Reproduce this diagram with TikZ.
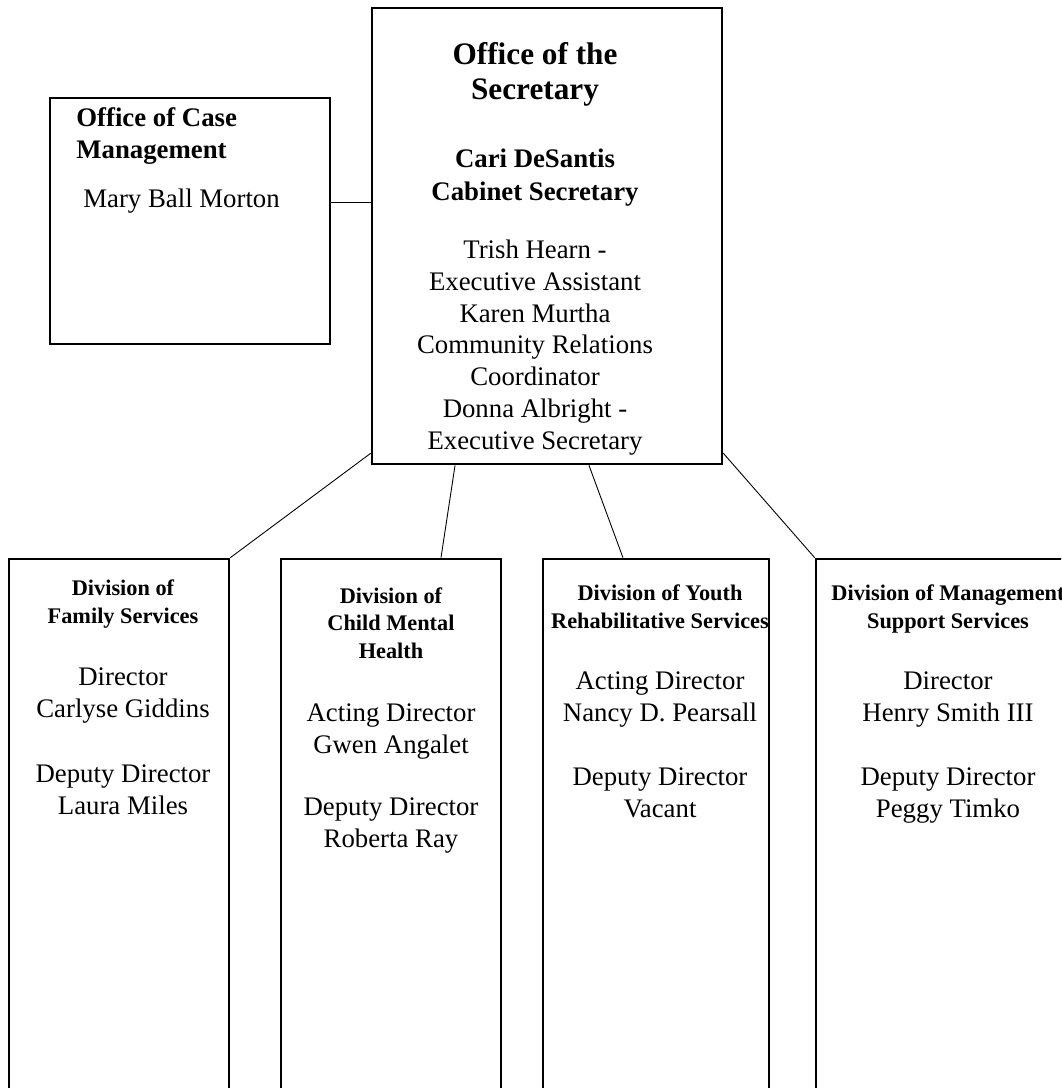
\documentclass[tikz,border=0pt]{standalone}
\usepackage{fontspec}
\setmainfont{Liberation Serif}
\pgfdeclarelayer{bg}
\pgfsetlayers{bg,main}
\tikzset{
    orgbox/.style={rectangle, draw, line width=1.2pt, inner sep=0mm},
    body/.style={align=center, inner sep=0mm, anchor=base, font=\fontsize{12}{14.2}\selectfont},
    bighead/.style={body, font=\bfseries\fontsize{14}{15.7}\selectfont},
    bodyhead/.style={body, font=\bfseries\fontsize{12}{14.5}\selectfont},
    divhead/.style={body, font=\bfseries\fontsize{10}{12.1}\selectfont}
}

\begin{document}
\begin{tikzpicture}[x=0.448pt, y=-0.448pt, line width=1.2pt]
    \useasboundingbox (0,0) rectangle (1061,1088);
    \clip (0,0) rectangle (1061,1088);

    \node (sec) [orgbox, minimum width=350*0.448pt, minimum height=456*0.448pt] at (547, 236) {};
    \node (case) [orgbox, minimum width=280*0.448pt, minimum height=246*0.448pt] at (190, 221) {};
    \node (fam) [orgbox, minimum width=220*0.448pt, minimum height=551*0.448pt] at (119, 834.5) {};
    \node (cmh) [orgbox, minimum width=220*0.448pt, minimum height=551*0.448pt] at (391, 834.5) {};
    \node (yrs) [orgbox, minimum width=226*0.448pt, minimum height=551*0.448pt] at (656, 834.5) {};
    \node (mss) [orgbox, minimum width=266*0.448pt, minimum height=551*0.448pt] at (949, 834.5) {};

    % texts sit on the baseline of their last line
    \node (sech) [bighead] at (535, 100) {Office of the\\Secretary};
    \node (secn) [bodyhead] at (535, 200) {Cari DeSantis\\Cabinet Secretary};
    \node (secs) [body] at (535, 449) {Trish Hearn -\\Executive Assistant\\Karen Murtha\\Community Relations\\Coordinator\\Donna Albright -\\Executive Secretary};

    \node (caseh) [bodyhead, align=left, anchor=base west] at (75, 159) {Office of Case\\Management};
    \node (casen) [body, anchor=base west] at (82, 207) {Mary Ball Morton};

    \node (famh) [divhead] at (123, 623) {Division of\\Family Services};
    \node (famn) [body] at (123, 717) {Director\\Carlyse Giddins};
    \node (famd) [body] at (123, 814) {Deputy Director\\Laura Miles};

    \node (cmhh) [divhead] at (391, 658) {Division of\\Child Mental\\Health};
    \node (cmhn) [body] at (391, 753) {Acting Director\\Gwen Angalet};
    \node (cmhd) [body] at (391, 847) {Deputy Director\\Roberta Ray};

    \node (yrsh) [divhead] at (660, 628) {Division of Youth\\Rehabilitative Services};
    \node (yrsn) [body] at (660, 721) {Acting Director\\Nancy D. Pearsall};
    \node (yrsd) [body] at (660, 817) {Deputy Director\\Vacant};

    \node (mssh) [divhead] at (948, 628) {Division of Management\\Support Services};
    \node (mssn) [body] at (948, 721) {Director\\Henry Smith III};
    \node (mssd) [body] at (948, 817) {Deputy Director\\Peggy Timko};

    \begin{pgfonlayer}{bg}
        \draw ([yshift=8.1pt]case.east) coordinate (cl) -- (sec.west |- cl);
        \draw ([yshift=5.4pt]sec.south west) -- (fam.north east);
        \draw ([xshift=-41.2pt]sec.south) -- ([xshift=22.4pt]cmh.north);
        \draw ([xshift=18.8pt]sec.south) -- ([xshift=-14.8pt]yrs.north);
        \draw ([yshift=5.4pt]sec.south east) -- (mss.north west);
    \end{pgfonlayer}
\end{tikzpicture}
\end{document}
